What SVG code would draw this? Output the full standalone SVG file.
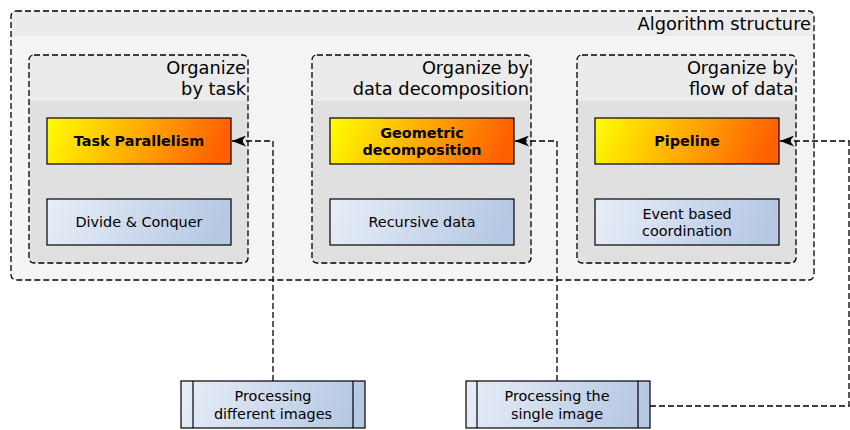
<svg xmlns="http://www.w3.org/2000/svg" width="850" height="430" viewBox="0 0 850 430">
<defs>
<linearGradient id="og" x1="0" y1="0" x2="1" y2="0.1">
<stop offset="0" stop-color="#ffff00"/><stop offset="1" stop-color="#ff6000"/>
</linearGradient>
<linearGradient id="bg" x1="0" y1="0" x2="1" y2="0.1">
<stop offset="0" stop-color="#e8eef8"/><stop offset="1" stop-color="#b6c8e3"/>
</linearGradient>
<marker id="arr" markerWidth="15" markerHeight="11" refX="14" refY="5.5" orient="auto" markerUnits="userSpaceOnUse">
<path d="M0,0 L14,5.5 L0,11 L4,5.5 Z" fill="#000"/>
</marker>
<clipPath id="c0"><rect x="11" y="11" width="803" height="269" rx="5"/></clipPath>
<clipPath id="c1"><rect x="29" y="55" width="219" height="208" rx="5"/></clipPath>
<clipPath id="c2"><rect x="312" y="55" width="219" height="208" rx="5"/></clipPath>
<clipPath id="c3"><rect x="577" y="55" width="219" height="208" rx="5"/></clipPath>
</defs>
<style>
.dash{fill:none;stroke:#000;stroke-width:1.3;stroke-dasharray:6,3}
.t{font-family:"DejaVu Sans",sans-serif;fill:#000}
.h{font-size:17.8px;text-anchor:end}
.b{font-size:14.4px;font-weight:bold;text-anchor:middle}
.n{font-size:14.4px;text-anchor:middle}
.ob{fill:url(#og);stroke:#000;stroke-width:1.2}
.bb{fill:url(#bg);stroke:#000;stroke-width:1.2}
.con{fill:none;stroke:#000;stroke-width:1.3;stroke-dasharray:6,3}
</style>
<g id="algorithm-structure">
<g clip-path="url(#c0)">
<rect x="11" y="11" width="803" height="269" fill="#f4f4f4"/>
<rect x="11" y="11" width="803" height="25" fill="#ebebeb"/>
</g>
<rect x="11" y="11" width="803" height="269" rx="5" class="dash"/>
<text class="t h" x="811" y="30">Algorithm structure</text>
</g>
<g id="organize-by-task">
<g clip-path="url(#c1)">
<rect x="29" y="55" width="219" height="208" fill="#e0e0e0"/>
<rect x="29" y="55" width="219" height="46" fill="#ebebeb"/>
</g>
<rect x="29" y="55" width="219" height="208" rx="5" class="dash"/>
<text class="t h" x="246" y="74">Organize</text>
<text class="t h" x="246" y="95">by task</text>
</g>
<g id="organize-by-data">
<g clip-path="url(#c2)">
<rect x="312" y="55" width="219" height="208" fill="#e0e0e0"/>
<rect x="312" y="55" width="219" height="46" fill="#ebebeb"/>
</g>
<rect x="312" y="55" width="219" height="208" rx="5" class="dash"/>
<text class="t h" x="529" y="74">Organize by</text>
<text class="t h" x="529" y="95">data decomposition</text>
</g>
<g id="organize-by-flow">
<g clip-path="url(#c3)">
<rect x="577" y="55" width="219" height="208" fill="#e0e0e0"/>
<rect x="577" y="55" width="219" height="46" fill="#ebebeb"/>
</g>
<rect x="577" y="55" width="219" height="208" rx="5" class="dash"/>
<text class="t h" x="794" y="74">Organize by</text>
<text class="t h" x="794" y="95">flow of data</text>
</g>
<g id="task-parallelism">
<rect x="47" y="118" width="184" height="46" class="ob"/>
<text class="t b" x="139" y="146">Task Parallelism</text>
</g>
<g id="geometric-decomposition">
<rect x="330" y="118" width="184" height="46" class="ob"/>
<text class="t b" x="422" y="138">Geometric</text>
<text class="t b" x="422" y="155">decomposition</text>
</g>
<g id="pipeline">
<rect x="595" y="118" width="184" height="46" class="ob"/>
<text class="t b" x="687" y="146">Pipeline</text>
</g>
<g id="divide-conquer">
<rect x="47" y="199" width="184" height="46" class="bb"/>
<text class="t n" x="139" y="227">Divide &amp; Conquer</text>
</g>
<g id="recursive-data">
<rect x="330" y="199" width="184" height="46" class="bb"/>
<text class="t n" x="422" y="227">Recursive data</text>
</g>
<g id="event-based">
<rect x="595" y="199" width="184" height="46" class="bb"/>
<text class="t n" x="687" y="219">Event based</text>
<text class="t n" x="687" y="236">coordination</text>
</g>
<g id="processing-different">
<rect x="181" y="381" width="184" height="47" class="bb"/>
<line x1="193" y1="381" x2="193" y2="428" stroke="#000" stroke-width="1.2"/>
<line x1="353" y1="381" x2="353" y2="428" stroke="#000" stroke-width="1.2"/>
<text class="t n" x="273" y="401">Processing</text>
<text class="t n" x="273" y="419">different images</text>
</g>
<g id="processing-single">
<rect x="466" y="381" width="184" height="47" class="bb"/>
<line x1="477" y1="381" x2="477" y2="428" stroke="#000" stroke-width="1.2"/>
<line x1="638" y1="381" x2="638" y2="428" stroke="#000" stroke-width="1.2"/>
<text class="t n" x="557" y="401">Processing the</text>
<text class="t n" x="557" y="419">single image</text>
</g>
<g id="connectors">
<polyline class="con" points="273,381 273,141 232,141" marker-end="url(#arr)"/>
<polyline class="con" points="557,381 557,141 515,141" marker-end="url(#arr)"/>
<polyline class="con" points="650,406 849,406 849,141 780,141" marker-end="url(#arr)"/>
</g>
</svg>
